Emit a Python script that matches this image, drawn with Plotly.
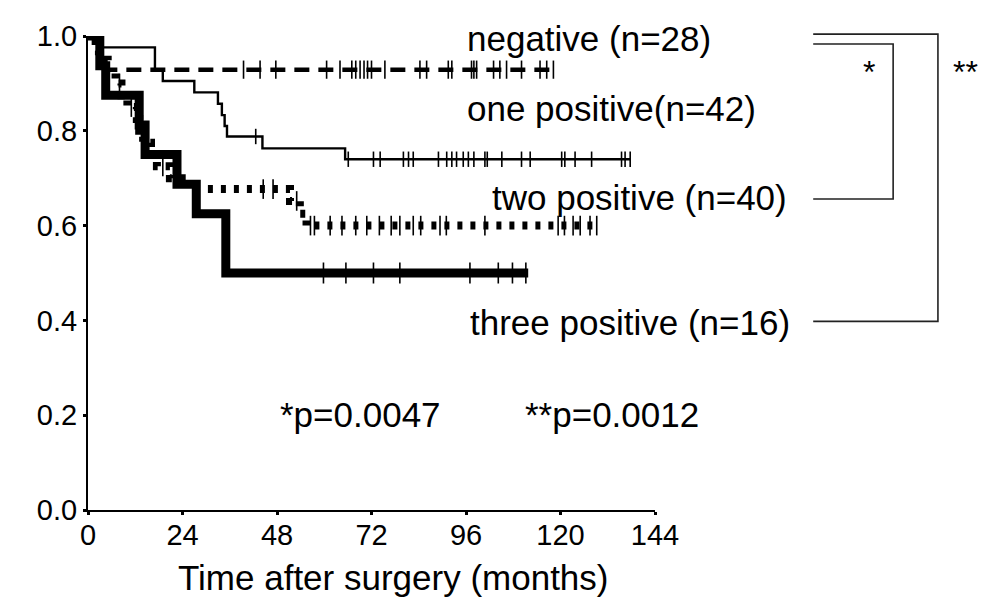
import plotly.graph_objects as go

# ---- data (months, survival fraction) ----
neg_t = [0, 1.5, 3.5]
neg_s = [1.0, 0.964, 0.929]
neg_end = 118.2
neg_cens = [39.5, 43.7, 47.7, 60.6, 64, 67, 68, 69.1, 70.1, 71, 72, 75.4, 84.3, 86,
            91.5, 92.4, 97.4, 98, 98.7, 103, 104.6, 106.3, 110.1, 114.8, 116.5, 118.2]

one_t = [0, 3, 17, 19, 27, 33, 34, 34.7, 35.3, 44.3, 65.3]
one_s = [1.0, 0.976, 0.929, 0.905, 0.881, 0.857, 0.833, 0.810, 0.788, 0.763, 0.740]
one_end = 137.7
one_cens = [42.6, 66.1, 72.5, 74.2, 80.1, 81.4, 82.6, 89, 91.1, 92.4, 93.6, 95.3, 96.6,
            98, 100.8, 101.4, 105.1, 110.1, 112.3, 120.3, 121.1, 123.7, 127.9, 135.5,
            136.4, 137.7]

two_t = [0, 3, 5, 7, 8.5, 10, 12.4, 13, 14, 16, 17.5, 20.8, 23.8, 26.7, 51.3, 53.8, 55.5]
two_s = [1.0, 0.95, 0.925, 0.90, 0.875, 0.85, 0.825, 0.80, 0.775, 0.75, 0.725, 0.70,
         0.688, 0.677, 0.652, 0.625, 0.600]
two_end = 129.5
two_cens = [8, 11, 15, 19, 44.5, 47, 53, 56.5, 57.5, 61.5, 64.5, 68, 70.8, 74, 77, 79.2,
            82.6, 84.5, 89.4, 91, 100.8, 119.4, 121, 123.2, 125, 127.5, 129.2]

three_t = [0, 3, 4.5, 13, 14.5, 22.6, 27.5, 35]
three_s = [1.0, 0.9375, 0.875, 0.8125, 0.75, 0.6875, 0.625, 0.5]
three_end = 111.8
three_cens = [59.8, 65.5, 72.5, 79.2, 97, 104.2, 107.8, 111.2]

x_ticks = [0, 24, 48, 72, 96, 120, 144]
y_ticks = [0.0, 0.2, 0.4, 0.6, 0.8, 1.0]
y_ticklabels = ["0.0", "0.2", "0.4", "0.6", "0.8", "1.0"]

group_labels = ["negative (n=28)", "one positive(n=42)", "two positive (n=40)",
                "three positive (n=16)"]
p_labels = ["*p=0.0047", "**p=0.0012"]

FONT = "Liberation Sans, Arial, sans-serif"


def surv_at(times, surv, t):
    v = surv[0]
    for ti, si in zip(times, surv):
        if ti <= t:
            v = si
    return v


fig = go.Figure()

curves = [
    (neg_t, neg_s, neg_end, neg_cens, dict(width=4.5, dash="15px,9px"), 13),
    (one_t, one_s, one_end, one_cens, dict(width=2.4), 11),
    (two_t, two_s, two_end, two_cens, dict(width=8, dash="5px,8px"), 14),
    (three_t, three_s, three_end, three_cens, dict(width=9), 15),
]

for times, surv, end, cens, lstyle, msize in curves:
    xs = list(times) + [end]
    ys = list(surv) + [surv[-1]]
    fig.add_trace(go.Scatter(x=xs, y=ys, mode="lines", line_shape="hv",
                             line=dict(color="black", **lstyle),
                             hoverinfo="skip", showlegend=False))
    fig.add_trace(go.Scatter(x=cens, y=[surv_at(times, surv, c) for c in cens],
                             mode="markers",
                             marker=dict(symbol="line-ns", size=msize,
                                         line=dict(width=1.6, color="black")),
                             cliponaxis=False, hoverinfo="skip", showlegend=False))

ann = []
label_pos = [(0.665, 0.994), (0.665, 0.848), (0.709, 0.660), (0.670, 0.396)]
for txt, (px, py) in zip(group_labels, label_pos):
    ann.append(dict(text=txt, x=px, y=py, xref="paper", yref="paper",
                    xanchor="left", yanchor="middle", showarrow=False,
                    font=dict(family=FONT, size=35, color="black")))
for txt, px in zip(p_labels, [0.335, 0.767]):
    ann.append(dict(text=txt, x=px, y=0.202, xref="paper", yref="paper",
                    xanchor="left", yanchor="middle", showarrow=False,
                    font=dict(family=FONT, size=35, color="black")))
for txt, px in zip(["*", "**"], [1.377, 1.548]):
    ann.append(dict(text=txt, x=px, y=0.925, xref="paper", yref="paper",
                    xanchor="center", yanchor="middle", showarrow=False,
                    font=dict(family=FONT, size=32, color="black")))
ann.append(dict(text="Time after surgery (months)", x=0.538, y=-0.142,
                xref="paper", yref="paper", xanchor="center", yanchor="middle",
                showarrow=False, font=dict(family=FONT, size=35, color="black")))

shapes = []
# brackets (paper coordinates)
for x0, x1, y0, y1 in [(1.279, 1.499, 1.004, 0.398), (1.279, 1.420, 0.983, 0.656)]:
    shapes.append(dict(type="path", xref="paper", yref="paper",
                       path=f"M {x0} {y0} L {x1} {y0} L {x1} {y1} L {x0} {y1}",
                       line=dict(color="#222", width=1.6)))

fig.update_layout(
    width=984, height=597,
    margin=dict(l=80, r=337, t=22, b=95),
    paper_bgcolor="white", plot_bgcolor="white",
    font=dict(family=FONT, color="black"),
    annotations=ann, shapes=shapes,
    xaxis=dict(range=[0, 144], tickvals=x_ticks, ticks="outside", ticklen=3,
               tickwidth=3, tickcolor="black", showline=True, linecolor="black",
               linewidth=2, showgrid=False, zeroline=False, ticklabelstandoff=-5,
               tickfont=dict(family=FONT, size=29, color="black")),
    yaxis=dict(range=[0, 1.0], tickvals=y_ticks, ticktext=y_ticklabels,
               ticks="outside", ticklen=3, tickwidth=3, tickcolor="black",
               showline=True, linecolor="black", linewidth=2, showgrid=False,
               zeroline=False, ticklabelstandoff=0,
               tickfont=dict(family=FONT, size=29, color="black")),
)

fig.write_html("out.html")
